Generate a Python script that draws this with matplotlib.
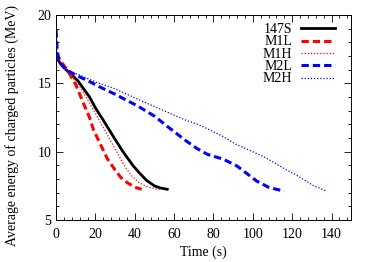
import matplotlib
matplotlib.use("Agg")
import matplotlib.pyplot as plt
from matplotlib.ticker import MultipleLocator

plt.rcParams['font.family'] = ['Liberation Serif', 'DejaVu Serif']
plt.rcParams['mathtext.fontset'] = 'stix'

# data (time in s, energy in MeV)
t_147s = [0, 1, 3, 5, 8, 11, 14, 17, 20, 24, 27, 30, 34, 37, 39, 42, 46, 50, 53, 56.5]
e_147s = [17.0, 16.7, 16.3, 16.0, 15.6, 15.2, 14.6, 14.0, 13.2, 12.3, 11.6, 10.9,
          10.0, 9.4, 9.0, 8.5, 7.9, 7.5, 7.35, 7.25]

t_m1l = [0, 3, 6, 10, 14, 17, 19, 23, 26, 30, 33, 36, 40, 43.5]
e_m1l = [17.2, 16.5, 15.9, 14.9, 13.5, 12.5, 11.6, 10.4, 9.5, 8.66, 8.1, 7.75, 7.4, 7.25]

t_m1h = [0, 0.3, 3, 7, 12, 16, 20, 25, 30, 35, 38, 42, 46, 50, 53]
e_m1h = [13.4, 17.0, 16.4, 15.6, 14.8, 13.8, 12.8, 11.5, 10.2, 8.9, 8.3, 7.75, 7.45,
         7.3, 7.25]

t_m2l = [0, 0.5, 1.5, 5, 10, 16, 22, 30, 42, 50, 57, 66, 72, 77, 85, 92, 97, 102,
         108, 112, 116]
e_m2l = [18.9, 17.5, 16.6, 16.0, 15.6, 15.2, 14.75, 14.2, 13.3, 12.6, 11.8, 10.8,
         10.2, 9.8, 9.45, 8.95, 8.4, 7.85, 7.4, 7.25, 7.12]

t_m2h = [0, 0.5, 2, 5, 12, 20, 30, 39, 50, 58, 66, 72, 78, 85, 92, 100, 106, 112,
         118, 122, 126, 131, 137.5]
e_m2h = [18.9, 17.2, 16.4, 16.0, 15.6, 15.1, 14.6, 14.0, 13.3, 12.8, 12.3, 12.0,
         11.6, 11.1, 10.5, 10.0, 9.6, 9.1, 8.6, 8.3, 7.95, 7.5, 7.12]

fig = plt.figure(figsize=(3.74, 2.62), dpi=100)
ax = fig.add_axes([0.150, 0.160, 0.789, 0.783])

ax.plot(t_147s, e_147s, color='black', lw=2.0, label='147S')
ax.plot(t_m1l, e_m1l, color='red', lw=2.2, dashes=(2.4, 1.3), label='M1L')
ax.plot(t_m1h, e_m1h, color='red', lw=0.9, dashes=(1, 1.5), label='M1H')
ax.plot(t_m2l, e_m2l, color='blue', lw=2.2, dashes=(2.4, 1.3), label='M2L')
ax.plot(t_m2h, e_m2h, color='blue', lw=0.9, dashes=(1, 1.5), label='M2H')

ax.set_xlim(0, 150)
ax.set_ylim(5, 20)
ax.xaxis.set_major_locator(MultipleLocator(20))
ax.xaxis.set_minor_locator(MultipleLocator(4))
ax.yaxis.set_major_locator(MultipleLocator(5))
ax.yaxis.set_minor_locator(MultipleLocator(1))
ax.tick_params(which='both', direction='in', top=True, right=True, labelsize=10,
               width=0.6)
ax.tick_params(which='major', length=5)
ax.tick_params(which='minor', length=2.5)
ax.tick_params(axis='x', pad=6)
for s in ax.spines.values():
    s.set_linewidth(0.7)

ax.set_xlabel('Time (s)', fontsize=10, labelpad=3)
ax.set_ylabel('Average energy of charged particles (MeV)', fontsize=10)
ax.yaxis.set_label_coords(-0.125, 0.46)

leg = ax.legend(loc='upper right', bbox_to_anchor=(0.946, 0.96), frameon=False,
                markerfirst=False, fontsize=10, handlelength=2.5,
                handletextpad=0.6, labelspacing=-0.05, borderpad=0,
                borderaxespad=0)

fig.savefig('out.png', dpi=100)
